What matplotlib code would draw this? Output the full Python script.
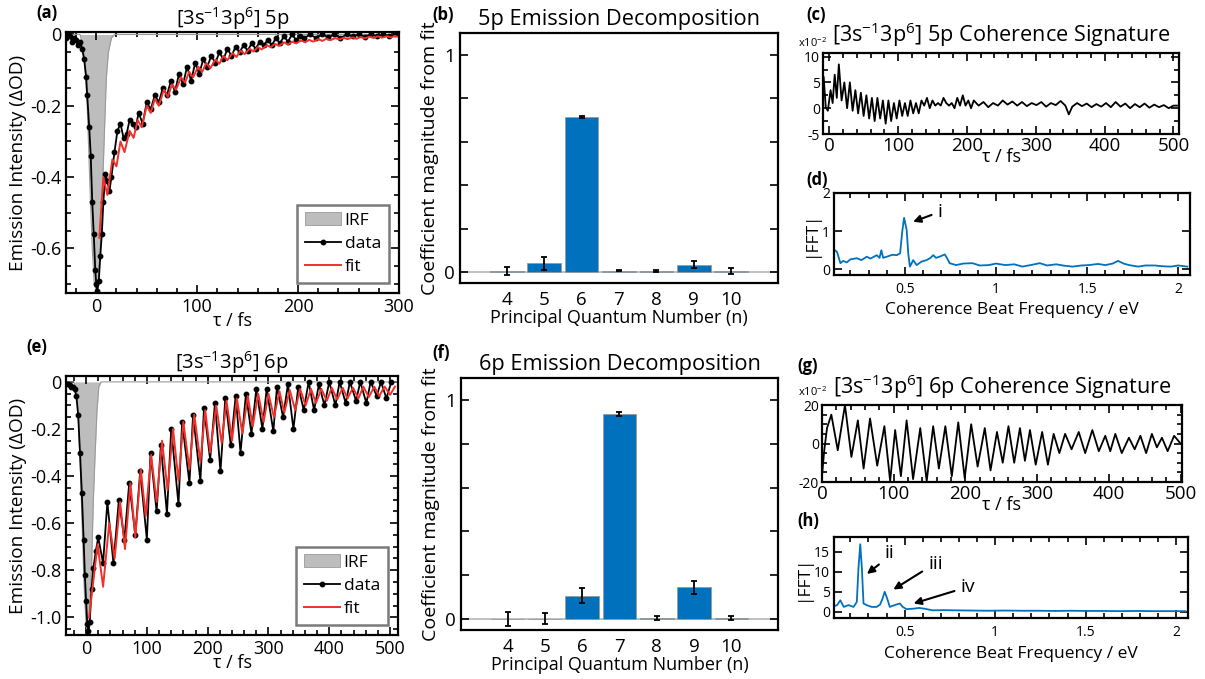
import matplotlib
matplotlib.use('Agg')
import matplotlib.pyplot as plt
from matplotlib.patches import Patch
from matplotlib.lines import Line2D
from matplotlib.ticker import MultipleLocator, FuncFormatter

plt.rcParams['font.family'] = ['Open Sans', 'DejaVu Sans']
plt.rcParams['mathtext.fontset'] = 'custom'
plt.rcParams['mathtext.rm'] = 'Open Sans'
plt.rcParams['mathtext.it'] = 'Open Sans:italic'
plt.rcParams['axes.unicode_minus'] = False

# ---------------- data ----------------
# (a) 5p transient: IRF, measured data, fit  (t in fs, value in dOD)
irf5 = [(-30, 0), (-16, 0), (-12, -0.05), (-9, -0.2), (-6, -0.45), (-4, -0.6), (-2, -0.7), (0, -0.72),
        (2, -0.7), (4, -0.6), (6, -0.45), (8, -0.28), (10, -0.12), (12, -0.05), (15, -0.01), (18, 0), (300, 0)]
data5 = [(-30, -0.01), (-28, 0.0), (-26, -0.005), (-24, -0.02), (-22, -0.01), (-20, -0.015), (-18, -0.03),
         (-16, -0.02), (-14, -0.04), (-12, -0.07), (-10, -0.12), (-9, -0.17), (-7, -0.26), (-5.5, -0.34),
         (-4, -0.47), (-2.5, -0.56), (-1, -0.66), (0, -0.70), (1, -0.72), (2.5, -0.69), (4, -0.62),
         (5.5, -0.56), (7, -0.47), (9, -0.39), (11, -0.41), (13, -0.44), (15, -0.40), (18, -0.33),
         (21, -0.27), (24, -0.25), (27, -0.29), (30, -0.28), (33, -0.24), (36, -0.25), (39, -0.26),
         (42, -0.22), (46, -0.25), (50, -0.19), (54, -0.21), (58, -0.17), (62, -0.19), (66, -0.15),
         (70, -0.17), (74, -0.13), (78, -0.16), (82, -0.11), (86, -0.14), (90, -0.09), (94, -0.13),
         (98, -0.08), (102, -0.11), (106, -0.07), (110, -0.09), (114, -0.06), (118, -0.08), (122, -0.05),
         (126, -0.07), (130, -0.04), (134, -0.06), (138, -0.035), (142, -0.05), (146, -0.03), (150, -0.045),
         (154, -0.025), (158, -0.04), (162, -0.02), (166, -0.03), (170, -0.015), (174, -0.03), (178, -0.01),
         (182, -0.025), (186, -0.005), (190, -0.02), (194, 0.0), (198, -0.015), (202, -0.005), (206, -0.01),
         (212, 0.0), (218, -0.01), (224, 0.0), (230, -0.008), (236, 0.0), (242, -0.01), (248, 0.0),
         (254, -0.005), (260, 0.0), (266, -0.006), (272, 0.0), (278, -0.005), (284, 0.0), (290, -0.004),
         (296, 0.0)]
fit5 = [(3, -0.57), (7, -0.40), (11, -0.45), (16, -0.35), (20, -0.37), (24, -0.30), (28, -0.33), (33, -0.27),
        (37, -0.29), (41, -0.24), (45, -0.26), (50, -0.20), (54, -0.22), (58, -0.18), (62, -0.20),
        (67, -0.155), (71, -0.175), (75, -0.14), (79, -0.155), (84, -0.12), (88, -0.135), (92, -0.105),
        (96, -0.12), (101, -0.09), (105, -0.105), (109, -0.08), (113, -0.095), (118, -0.07), (122, -0.082),
        (126, -0.06), (130, -0.072), (135, -0.052), (139, -0.063), (143, -0.045), (147, -0.055), (152, -0.04),
        (156, -0.048), (160, -0.035), (164, -0.042), (169, -0.03), (173, -0.036), (177, -0.026), (181, -0.032),
        (186, -0.022), (190, -0.028), (194, -0.02), (198, -0.025), (203, -0.017), (207, -0.022), (211, -0.015),
        (215, -0.02), (220, -0.013), (224, -0.018), (228, -0.012), (232, -0.016), (237, -0.01), (241, -0.014),
        (245, -0.009), (249, -0.013), (254, -0.008), (258, -0.012), (262, -0.007), (266, -0.011), (271, -0.006),
        (275, -0.01), (279, -0.005), (283, -0.009), (288, -0.005), (292, -0.008), (296, -0.004), (300, -0.007)]

# (e) 6p transient
irf6 = [(-30, 0), (-20, 0), (-15, -0.05), (-12, -0.2), (-9, -0.4), (-6, -0.65), (-3, -0.88), (0, -1.03),
        (3, -1.07), (5, -1.05), (7, -0.92), (9, -0.79), (12, -0.5), (15, -0.3), (18, -0.12), (21, -0.02),
        (25, 0), (515, 0)]
data6 = [(-30, -0.01), (-27, -0.015), (-24, -0.02), (-21, -0.02), (-19, -0.03), (-16, -0.06), (-13, -0.14),
         (-10, -0.30), (-7, -0.47), (-4, -0.67), (-2, -0.82), (0, -0.93), (2, -1.03), (4, -1.06), (6, -1.02),
         (9, -0.88), (12, -0.79), (16, -0.72), (20, -0.66), (28, -0.77), (35, -0.51), (45, -0.77), (54, -0.50),
         (63, -0.67), (71, -0.43), (81, -0.65), (89, -0.38), (100, -0.67), (106, -0.30), (116, -0.55),
         (123, -0.27), (133, -0.56), (140, -0.20), (152, -0.52), (158, -0.17), (170, -0.43), (176, -0.14),
         (188, -0.42), (194, -0.11), (204, -0.33), (212, -0.09), (221, -0.38), (229, -0.07), (238, -0.27),
         (246, -0.06), (254, -0.30), (263, -0.05), (272, -0.22), (280, -0.03), (290, -0.20), (297, -0.03),
         (308, -0.21), (314, -0.02), (324, -0.15), (332, -0.01), (341, -0.20), (349, -0.02), (358, -0.12),
         (366, 0.0), (375, -0.12), (383, -0.01), (392, -0.10), (400, 0.0), (410, -0.10), (417, 0.0),
         (427, -0.09), (434, 0.0), (444, -0.08), (451, 0.0), (461, -0.09), (468, 0.0), (478, -0.06),
         (485, 0.0), (494, -0.07), (502, 0.0)]
fit6 = [(5, -1.00), (19, -0.69), (28, -0.87), (38, -0.60), (47, -0.75), (56, -0.51), (64, -0.71), (73, -0.43),
        (81, -0.66), (90, -0.37), (98, -0.57), (107, -0.31), (116, -0.51), (125, -0.25), (134, -0.46),
        (143, -0.20), (152, -0.42), (160, -0.17), (170, -0.37), (178, -0.14), (188, -0.34), (196, -0.12),
        (204, -0.30), (214, -0.10), (223, -0.26), (231, -0.08), (240, -0.25), (248, -0.07), (257, -0.22),
        (266, -0.06), (274, -0.19), (283, -0.05), (292, -0.17), (300, -0.05), (309, -0.15), (318, -0.04),
        (326, -0.13), (335, -0.035), (344, -0.12), (352, -0.03), (361, -0.10), (370, -0.03), (378, -0.09),
        (387, -0.03), (396, -0.08), (404, -0.025), (413, -0.075), (422, -0.025), (430, -0.07), (439, -0.025),
        (448, -0.07), (456, -0.02), (465, -0.065), (474, -0.02), (482, -0.06), (491, -0.02), (500, -0.055),
        (508, -0.02)]

# (b), (f) decomposition bars
n_levels = [4, 5, 6, 7, 8, 9, 10]
coef_5p = [0.005, 0.04, 0.713, 0.007, 0.004, 0.034, 0.005]
err_5p = [0.02, 0.03, 0.006, 0.004, 0.004, 0.015, 0.012]
coef_6p = [0.0, 0.002, 0.107, 0.936, 0.005, 0.144, 0.005]
err_6p = [0.032, 0.025, 0.034, 0.008, 0.01, 0.028, 0.01]

# (c) 5p coherence signature (x1e-2)
coh5 = [(-8, 6.0), (-5, 0.2), (-2, -0.5), (2, 3.5), (5, 1.0), (8, 6.5), (11, 2.0), (14, 8.5), (18, 1.5),
        (22, 5.0), (26, 0.0), (30, 5.0), (34, -0.5), (38, 3.5), (42, -1.0), (46, 3.0), (50, -1.5), (54, 2.5),
        (58, -2.0), (62, 2.0), (66, -2.5), (70, 2.0), (74, -2.0), (78, 1.5), (82, -3.0), (86, 1.5), (90, -2.5),
        (94, 1.0), (98, -2.0), (102, 1.5), (106, -1.5), (110, 1.0), (114, -1.5), (118, 1.5), (122, -1.0),
        (126, 1.0), (130, -1.0), (134, 1.5), (138, 0.5), (142, 2.0), (146, 0.0), (150, 1.5), (154, 0.5),
        (158, 1.0), (162, 0.5), (166, 2.0), (170, 1.0), (174, 0.5), (178, 1.0), (182, 0.0), (186, 2.0),
        (190, 0.5), (194, 2.5), (198, 0.5), (202, 1.5), (206, 0.0), (210, 1.5), (217, 0.5), (224, 1.2),
        (231, 0.2), (238, 1.0), (245, 0.5), (252, 1.5), (259, 0.7), (266, 1.3), (273, 0.5), (280, 1.2),
        (287, 0.4), (294, 1.0), (301, 0.6), (308, 1.2), (315, 0.3), (322, 1.0), (329, 0.6), (336, 1.4),
        (343, 0.5), (348, -1.2), (353, 0.3), (360, 1.0), (367, 0.4), (374, 0.9), (381, 0.2), (388, 0.8),
        (395, 0.3), (402, 1.0), (409, 0.2), (416, 1.2), (423, 0.3), (430, 0.9), (437, 0.0), (444, 0.8),
        (451, 0.2), (458, 0.9), (465, 0.1), (472, 0.7), (479, 0.2), (486, 0.6), (493, 0.0), (500, 0.5),
        (505, 0.5)]

# (d) 5p |FFT| (eV)
fft5 = [(0.115, 0.5), (0.127, 0.45), (0.145, 0.16), (0.16, 0.22), (0.18, 0.18), (0.2, 0.26), (0.236, 0.29),
        (0.26, 0.24), (0.29, 0.33), (0.31, 0.28), (0.345, 0.37), (0.36, 0.3), (0.37, 0.5), (0.38, 0.3),
        (0.4, 0.33), (0.43, 0.38), (0.455, 0.37), (0.473, 0.42), (0.485, 1.0), (0.495, 1.35), (0.509, 1.03),
        (0.518, 0.4), (0.527, 0.07), (0.545, 0.24), (0.564, 0.11), (0.59, 0.2), (0.618, 0.24), (0.64, 0.3),
        (0.655, 0.37), (0.67, 0.3), (0.69, 0.33), (0.718, 0.39), (0.73, 0.3), (0.745, 0.16), (0.78, 0.11),
        (0.82, 0.15), (0.87, 0.16), (0.91, 0.1), (0.96, 0.11), (1.0, 0.15), (1.05, 0.11), (1.1, 0.13),
        (1.145, 0.07), (1.2, 0.12), (1.24, 0.16), (1.28, 0.1), (1.33, 0.13), (1.38, 0.09), (1.42, 0.07),
        (1.47, 0.1), (1.51, 0.11), (1.56, 0.14), (1.6, 0.11), (1.64, 0.15), (1.67, 0.22), (1.7, 0.15),
        (1.73, 0.11), (1.78, 0.07), (1.82, 0.1), (1.87, 0.1), (1.91, 0.08), (1.96, 0.07), (2.0, 0.1),
        (2.05, 0.07)]

# (g) 6p coherence signature (x1e-2)
coh6 = [(0, -17), (3, -4), (7, 8), (13, 15), (22, -3.5), (32, 20), (41, -7), (50, 12), (58, -13), (67, 13),
        (77, -11.5), (87, 9), (95, -19.5), (102, 7), (110, -17), (118, 12), (127, -18.5), (137, 8),
        (146, -19.5), (155, 9), (163, -13), (172, 9), (181, -17), (190, 11), (199, -18), (208, 10),
        (217, -12), (227, 8), (235, -14), (244, 6), (252, -10), (260, 9), (268, -10), (276, 8), (283, -9),
        (290, 7), (298, -11), (307, 6), (315, -11), (323, 5), (331, -5), (339, 5), (348, -3), (358, 6),
        (367, -5), (377, 7), (386, -4), (395, 4), (402, -4), (409, 5), (418, -5), (428, 3), (436, -3),
        (444, 4), (452, -5), (460, 5), (467, -2), (474, 3), (482, -4), (491, 4), (500, 0)]

# (h) 6p |FFT| (eV)
fft6 = [(0.115, 1.5), (0.127, 1.7), (0.145, 2.9), (0.164, 1.25), (0.19, 1.7), (0.218, 1.25), (0.236, 2.5),
        (0.245, 10.8), (0.255, 16.8), (0.264, 10.8), (0.273, 2.1), (0.29, 1.7), (0.318, 1.25), (0.345, 1.25),
        (0.364, 1.8), (0.378, 3.3), (0.39, 5.0), (0.404, 3.3), (0.418, 1.25), (0.445, 1.7), (0.473, 2.1),
        (0.49, 1.25), (0.51, 0.7), (0.545, 0.8), (0.58, 1.0), (0.61, 0.8), (0.655, 0.4), (0.72, 0.45),
        (0.78, 0.4), (0.87, 0.35), (0.96, 0.3), (1.05, 0.35), (1.145, 0.3), (1.24, 0.3), (1.33, 0.25),
        (1.42, 0.3), (1.51, 0.25), (1.6, 0.25), (1.69, 0.2), (1.78, 0.25), (1.87, 0.2), (1.96, 0.2),
        (2.05, 0.2)]

# ---------------- figure ----------------
W, H = 1205, 679
BLUE = '#0072BD'
RED = '#f0302a'
IRF_GREY = '#bdbdbd'

fig = plt.figure(figsize=(W / 100, H / 100), dpi=100)


def px_axes(l, t, r, b):
    return fig.add_axes([l / W, 1 - b / H, (r - l) / W, (b - t) / H])


def style(ax, top=True, right=True):
    for s in ax.spines.values():
        s.set_linewidth(1.6)
    ax.tick_params(which='both', direction='in', top=top, right=right, width=1.2)
    ax.tick_params(which='major', length=5.5)
    ax.tick_params(which='minor', length=3.5)


def unzip(pairs):
    return [p[0] for p in pairs], [p[1] for p in pairs]


def fmt_od(v, pos):
    if abs(v) < 1e-9:
        return '0'
    return '%.1f' % v


def panel_label(x, y, s):
    fig.text(x / W, 1 - y / H, s, fontsize=12, fontweight='bold', va='center', ha='left')


def transient(ax, irf, data, fit, xlim, ylim, title):
    t, v = unzip(irf)
    ax.fill_between(t, v, 0, color=IRF_GREY, lw=0)
    ax.plot(t, v, color='#9a9a9a', lw=0.8)
    t, v = unzip(data)
    ax.plot(t, v, color='k', lw=1.3, marker='o', ms=3.2)
    t, v = unzip(fit)
    ax.plot(t, v, color=RED, lw=1.4)
    ax.set_xlim(*xlim)
    ax.set_ylim(*ylim)
    ax.xaxis.set_major_locator(MultipleLocator(100))
    ax.xaxis.set_minor_locator(MultipleLocator(20))
    ax.yaxis.set_major_locator(MultipleLocator(0.2))
    ax.yaxis.set_minor_locator(MultipleLocator(0.05))
    ax.yaxis.set_major_formatter(FuncFormatter(fmt_od))
    ax.tick_params(labelsize=13)
    ax.set_xlabel('τ / fs', fontsize=13, labelpad=-3)
    ax.set_ylabel('Emission Intensity (ΔOD)', fontsize=13.7, labelpad=2)
    ax.set_title(title, fontsize=14.5, pad=4)
    handles = [Patch(facecolor=IRF_GREY, edgecolor='#9a9a9a', lw=0.6),
               Line2D([], [], color='k', lw=1.3, marker='o', ms=3.2),
               Line2D([], [], color=RED, lw=1.4)]
    leg = ax.legend(handles, ['IRF', 'data', 'fit'], loc='lower right', fontsize=12.5, fancybox=False,
                    framealpha=1, edgecolor='#7a7a7a', handlelength=2.1, handletextpad=0.2,
                    borderpad=0.45, labelspacing=0.4, borderaxespad=0.6)
    leg.get_frame().set_linewidth(1.8)
    style(ax)


def bars(ax, coef, err, title):
    ax.axhline(0, color='#b5b5b5', lw=1.2, zorder=1)
    ax.bar(n_levels, coef, width=0.9, color=BLUE, edgecolor='#9a9a9a', lw=0.6, zorder=2)
    ax.errorbar(n_levels, coef, yerr=err, fmt='none', ecolor='k', elinewidth=1.3, capsize=2.5,
                capthick=1.3, zorder=3)
    ax.set_xlim(2.75, 11.25)
    ax.set_ylim(-0.05, 1.1)
    ax.set_xticks(n_levels)
    ax.yaxis.set_major_locator(MultipleLocator(0.2))
    ax.yaxis.set_major_formatter(FuncFormatter(lambda v, p: '%d' % round(v) if abs(v - round(v)) < 1e-6 else ''))
    style(ax, top=False)
    ax.tick_params(axis='x', length=0, labelsize=13.5, pad=6)
    ax.tick_params(axis='y', labelsize=13.5)
    ax.set_xlabel('Principal Quantum Number (n)', fontsize=13, labelpad=0)
    ax.set_ylabel('Coefficient magnitude from fit', fontsize=14, labelpad=4)
    ax.set_title(title, fontsize=15.7, pad=6)


def coherence(ax, pairs, xlim, ylim, ymajor, yminor, title):
    t, v = unzip(pairs)
    ax.plot(t, v, color='k', lw=1.3)
    ax.set_xlim(*xlim)
    ax.set_ylim(*ylim)
    ax.xaxis.set_major_locator(MultipleLocator(100))
    ax.xaxis.set_minor_locator(MultipleLocator(20))
    ax.yaxis.set_major_locator(MultipleLocator(ymajor))
    ax.yaxis.set_minor_locator(MultipleLocator(yminor))
    style(ax)
    ax.tick_params(axis='x', labelsize=13.5, pad=2)
    ax.tick_params(axis='y', labelsize=10, pad=2)
    ax.set_xlabel('τ / fs', fontsize=13, labelpad=-5)
    ax.set_title(title, fontsize=15.6, pad=8)


def fft(ax, pairs, ylim, ymajor, title_arrows):
    e, a = unzip(pairs)
    ax.plot(e, a, color=BLUE, lw=1.3)
    ax.set_xlim(0.11, 2.065)
    ax.set_ylim(*ylim)
    ax.xaxis.set_major_locator(MultipleLocator(0.5))
    ax.xaxis.set_minor_locator(MultipleLocator(0.1))
    ax.yaxis.set_major_locator(MultipleLocator(ymajor))
    ax.xaxis.set_major_formatter(FuncFormatter(lambda v, p: '%g' % v))
    style(ax)
    ax.tick_params(labelsize=10, pad=3)
    ax.tick_params(axis='x', pad=5)
    ax.set_xlabel('Coherence Beat Frequency / eV', fontsize=12.5, labelpad=4)
    ax.set_ylabel('|FFT|', fontsize=12.5, labelpad=2)
    for label, txt_xy, tail, head in title_arrows:
        ax.text(txt_xy[0], txt_xy[1], label, fontsize=14, ha='left', va='center')
        ax.annotate('', xy=head, xytext=tail,
                    arrowprops=dict(arrowstyle='-|>', color='k', lw=1.5, mutation_scale=11))


# (a)
ax_a = px_axes(66, 32, 399, 293)
transient(ax_a, irf5, data5, fit5, (-30, 300), (-0.725, 0.007), r'[3s$^{-1}$3p$^{6}$] 5p')
# (e)
ax_e = px_axes(66, 376, 398, 635)
transient(ax_e, irf6, data6, fit6, (-33, 513), (-1.075, 0.025), r'[3s$^{-1}$3p$^{6}$] 6p')
# (b), (f)
ax_b = px_axes(460, 33, 778, 283)
bars(ax_b, coef_5p, err_5p, '5p Emission Decomposition')
ax_f = px_axes(461, 378, 778, 630)
bars(ax_f, coef_6p, err_6p, '6p Emission Decomposition')
# (c), (g)
ax_c = px_axes(823, 53, 1179, 134)
coherence(ax_c, coh5, (-9, 508), (-5, 10.7), 5, 2.5, r'[3s$^{-1}$3p$^{6}$] 5p Coherence Signature')
ax_g = px_axes(822, 405, 1182, 482)
coherence(ax_g, coh6, (0, 502), (-20, 20), 20, 5, r'[3s$^{-1}$3p$^{6}$] 6p Coherence Signature')
fig.text(798 / W, 1 - 43 / H, r'x10$^{-2}$', fontsize=8, va='center')
fig.text(798 / W, 1 - 392 / H, r'x10$^{-2}$', fontsize=8, va='center')
# (d), (h)
ax_d = px_axes(834, 193, 1190, 275)
fft(ax_d, fft5, (-0.15, 2.0), 1, [('i', (0.68, 1.5), (0.66, 1.45), (0.53, 1.22))])
ax_h = px_axes(834, 537, 1188, 618)
fft(ax_h, fft6, (-1.5, 18.6), 5, [('ii', (0.39, 14.6), (0.37, 12.2), (0.28, 9.0)),
                                  ('iii', (0.63, 11.8), (0.61, 10.4), (0.425, 5.2)),
                                  ('iv', (0.81, 6.3), (0.79, 5.4), (0.535, 1.9))])

panel_label(36, 13, '(a)')
panel_label(432, 15, '(b)')
panel_label(806, 15, '(c)')
panel_label(806, 180, '(d)')
panel_label(26, 347, '(e)')
panel_label(432, 353, '(f)')
panel_label(797, 366, '(g)')
panel_label(797, 521, '(h)')

fig.savefig('out.png', dpi=100)
